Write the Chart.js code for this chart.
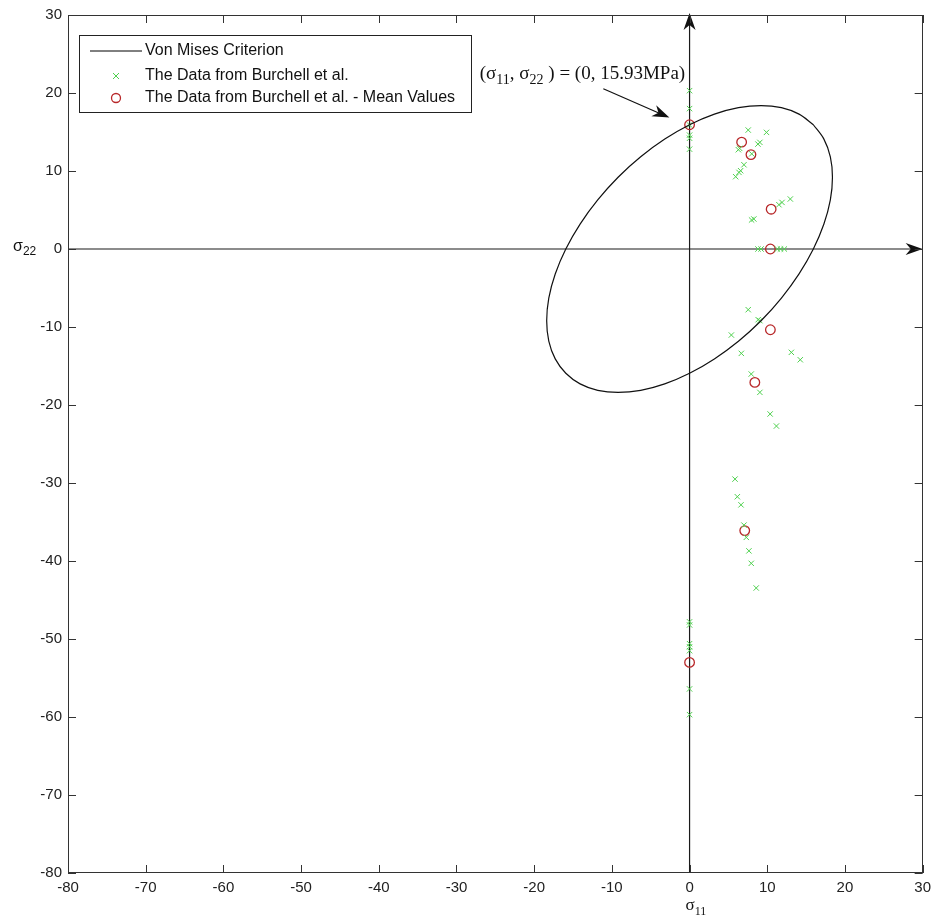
<!DOCTYPE html>
<html>
<head>
<meta charset="utf-8">
<title>Von Mises criterion vs Burchell data</title>
<script src="https://cdn.jsdelivr.net/npm/chart.js@4.4.1/dist/chart.umd.min.js"></script>
<style>
  html, body { margin: 0; padding: 0; background: #fff; }
</style>
</head>
<body>
<canvas id="yieldChart" width="937" height="922"></canvas>
<script>
// ---- data ----
const xTickValues = [-80, -70, -60, -50, -40, -30, -20, -10, 0, 10, 20, 30];
const yTickValues = [-80, -70, -60, -50, -40, -30, -20, -10, 0, 10, 20, 30];

// Von Mises ellipse (sigma_y = 15.93 MPa), points read around the curve
const vonMisesS11 = [15.93, 14.09, 11.82, 9.20, 6.29, 3.20, 0, -3.19, -6.29, -9.20, -11.82, -14.09,
  -15.93, -17.29, -18.12, -18.39, -18.12, -17.29, -15.93, -14.09, -11.82, -9.20, -6.29, -3.20,
  0, 3.19, 6.29, 9.20, 11.82, 14.09, 15.93, 17.29, 18.12, 18.39, 18.12, 17.29, 15.93];
const vonMisesS22 = [15.93, 17.29, 18.12, 18.39, 18.12, 17.29, 15.93, 14.09, 11.82, 9.20, 6.29, 3.19,
  0, -3.20, -6.29, -9.20, -11.82, -14.09, -15.93, -17.29, -18.12, -18.39, -18.12, -17.29,
  -15.93, -14.09, -11.82, -9.20, -6.29, -3.19, 0, 3.20, 6.29, 9.20, 11.82, 14.09, 15.93];

// The Data from Burchell et al.
const burchellS11 = [0, 0, 0, 0, 0, 0,
  7.55, 9.9, 9.05, 8.8, 6.28, 6.45, 7.0, 6.57, 6.36, 5.93, 8.0,
  12.97, 11.9, 11.5, 7.98, 8.27,
  8.8, 9.2, 11.3, 11.7, 12.2,
  7.55, 8.83, 9.05, 5.38, 6.66, 13.1, 14.25, 7.94, 9.05, 10.37, 11.18,
  5.85, 6.15, 6.62, 7.0, 7.3, 7.64, 7.94, 8.58,
  0, 0, 0, 0, 0, 0, 0];
const burchellS22 = [20.3, 18.0, 15.9, 14.6, 14.2, 12.8,
  15.25, 14.95, 13.67, 13.45, 12.73, 12.9, 10.8, 10.04, 9.82, 9.27, 12.2,
  6.41, 5.97, 5.68, 3.72, 3.85,
  0, 0, 0, 0, 0,
  -7.78, -9.06, -9.19, -11.03, -13.38, -13.25, -14.2, -16.03, -18.38, -21.15, -22.7,
  -29.5, -31.76, -32.8, -35.4, -36.97, -38.7, -40.3, -43.46,
  -47.8, -48.2, -50.6, -51.0, -51.5, -56.4, -59.7];

// Mean values
const meanS11 = [0, 6.7, 7.9, 10.5, 10.4, 10.4, 8.4, 7.1, 0];
const meanS22 = [15.93, 13.7, 12.1, 5.1, 0, -10.35, -17.1, -36.1, -53.0];

const legendLabels = [
  "Von Mises Criterion",
  "The Data from Burchell et al.",
  "The Data from Burchell et al. - Mean Values",
];

const toPoints = (xs, ys) => xs.map((v, i) => ({ x: v, y: ys[i] }));

// ---- styles ----
const sansFont = '"Liberation Sans", Arial, sans-serif';
const serifFont = '"Liberation Serif", "Times New Roman", serif';
const greenColor = "#4fd04f";
const redColor = "#b8282a";

// annotation anchor points (data coords)
const noteTextAt = { x: -27.0, y: 21.8 };
const noteArrowFrom = { x: -11.1, y: 20.55 };
const noteArrowTo = { x: -2.6, y: 16.85 };

function arrowHead(ctx, tx, ty, angle, len, half) {
  ctx.save();
  ctx.translate(tx, ty);
  ctx.rotate(angle);
  ctx.beginPath();
  ctx.moveTo(0, 0);
  ctx.lineTo(-len, -half);
  ctx.lineTo(-len * 0.7, 0);
  ctx.lineTo(-len, half);
  ctx.closePath();
  ctx.fill();
  ctx.restore();
}

// draws text pieces, some of them as subscripts
function drawRich(ctx, parts, x, y, size, family) {
  let cx = x;
  parts.forEach((p) => {
    const s = p.sub ? Math.round(size * 0.72) : size;
    ctx.font = s + "px " + family;
    ctx.fillText(p.t, cx, p.sub ? y + size * 0.28 : y);
    cx += ctx.measureText(p.t).width;
  });
}

const matlabLook = {
  id: "matlabLook",
  beforeDatasetsDraw(chart) {
    const { ctx, chartArea: a, scales } = chart;
    const x0 = scales.x.getPixelForValue(0);
    const y0 = scales.y.getPixelForValue(0);
    ctx.save();
    ctx.strokeStyle = "#1a1a1a";
    ctx.lineWidth = 1.2;
    ctx.beginPath();
    ctx.moveTo(x0, a.bottom);
    ctx.lineTo(x0, a.top + 6);
    ctx.moveTo(a.left, y0);
    ctx.lineTo(a.right - 6, y0);
    ctx.stroke();
    ctx.restore();
  },
  afterDatasetsDraw(chart) {
    const { ctx, chartArea: a, scales } = chart;
    const xs = scales.x, ys = scales.y;
    ctx.save();

    // arrow heads on the coordinate axes
    ctx.fillStyle = "#111";
    arrowHead(ctx, xs.getPixelForValue(0), a.top - 2, -Math.PI / 2, 17, 6);
    arrowHead(ctx, a.right, ys.getPixelForValue(0), 0, 17, 6);

    // frame
    ctx.strokeStyle = "#333";
    ctx.lineWidth = 1;
    ctx.strokeRect(Math.round(a.left) + 0.5, Math.round(a.top) + 0.5,
      Math.round(a.right - a.left) - 1, Math.round(a.bottom - a.top) - 1);

    // inward ticks on all four sides
    const tl = 8;
    ctx.beginPath();
    xTickValues.forEach((v) => {
      const px = Math.round(xs.getPixelForValue(v)) + 0.5;
      ctx.moveTo(px, a.bottom); ctx.lineTo(px, a.bottom - tl);
      ctx.moveTo(px, a.top); ctx.lineTo(px, a.top + tl);
    });
    yTickValues.forEach((v) => {
      const py = Math.round(ys.getPixelForValue(v)) + 0.5;
      ctx.moveTo(a.left, py); ctx.lineTo(a.left + tl, py);
      ctx.moveTo(a.right, py); ctx.lineTo(a.right - tl, py);
    });
    ctx.stroke();

    // legend box
    const lx = a.left + 11, ly = a.top + 20, lw = 392, lh = 77;
    ctx.fillStyle = "#fff";
    ctx.fillRect(lx, ly, lw, lh);
    ctx.strokeStyle = "#222";
    ctx.strokeRect(lx + 0.5, ly + 0.5, lw, lh);
    const rows = [ly + 16, ly + 41, ly + 63];
    const sampleX = lx + 37;
    ctx.strokeStyle = "#000";
    ctx.beginPath();
    ctx.moveTo(lx + 11, rows[0]); ctx.lineTo(lx + 63, rows[0]);
    ctx.stroke();
    ctx.strokeStyle = greenColor;
    ctx.beginPath();
    ctx.moveTo(sampleX - 3, rows[1] - 3); ctx.lineTo(sampleX + 3, rows[1] + 3);
    ctx.moveTo(sampleX + 3, rows[1] - 3); ctx.lineTo(sampleX - 3, rows[1] + 3);
    ctx.stroke();
    ctx.strokeStyle = redColor;
    ctx.lineWidth = 1.3;
    ctx.beginPath();
    ctx.arc(sampleX, rows[2], 4.5, 0, Math.PI * 2);
    ctx.stroke();
    ctx.fillStyle = "#111";
    ctx.font = "16px " + sansFont;
    ctx.textBaseline = "middle";
    legendLabels.forEach((t, i) => ctx.fillText(t, lx + 66, rows[i]));

    // annotation
    ctx.textBaseline = "alphabetic";
    drawRich(ctx, [
      { t: "(\u03c3" }, { t: "11", sub: true }, { t: ", \u03c3" }, { t: "22", sub: true },
      { t: " ) = (0, 15.93MPa)" },
    ], xs.getPixelForValue(noteTextAt.x), ys.getPixelForValue(noteTextAt.y), 19, serifFont);
    const fx = xs.getPixelForValue(noteArrowFrom.x), fy = ys.getPixelForValue(noteArrowFrom.y);
    const tx = xs.getPixelForValue(noteArrowTo.x), ty = ys.getPixelForValue(noteArrowTo.y);
    ctx.strokeStyle = "#111";
    ctx.lineWidth = 1.2;
    ctx.beginPath();
    ctx.moveTo(fx, fy); ctx.lineTo(tx - (tx - fx) * 0.1, ty - (ty - fy) * 0.1);
    ctx.stroke();
    arrowHead(ctx, tx, ty, Math.atan2(ty - fy, tx - fx), 17, 6);

    // axis titles
    ctx.fillStyle = "#111";
    drawRich(ctx, [{ t: "\u03c3" }, { t: "11", sub: true }],
      xs.getPixelForValue(0) - 4, a.bottom + 37, 17, serifFont);
    drawRich(ctx, [{ t: "\u03c3" }, { t: "22", sub: true }],
      13, ys.getPixelForValue(0) + 2, 16, sansFont);

    ctx.restore();
  },
};

const tickFont = { family: sansFont, size: 15 };

new Chart(document.getElementById("yieldChart"), {
  type: "scatter",
  data: {
    datasets: [
      {
        label: legendLabels[0],
        type: "line",
        data: toPoints(vonMisesS11, vonMisesS22),
        borderColor: "#111",
        borderWidth: 1.2,
        pointRadius: 0,
        tension: 0.34,
        fill: false,
      },
      {
        label: legendLabels[1],
        data: toPoints(burchellS11, burchellS22),
        pointStyle: "crossRot",
        pointRadius: 3.8,
        borderColor: greenColor,
        borderWidth: 1,
      },
      {
        label: legendLabels[2],
        data: toPoints(meanS11, meanS22),
        pointStyle: "circle",
        pointRadius: 4.8,
        borderColor: redColor,
        backgroundColor: "rgba(0,0,0,0)",
        borderWidth: 1.3,
      },
    ],
  },
  options: {
    responsive: false,
    animation: false,
    events: [],
    layout: { padding: { top: 14, right: 9, left: 0, bottom: 0 } },
    plugins: {
      legend: { display: false },
      tooltip: { enabled: false },
    },
    scales: {
      x: {
        type: "linear",
        min: -80,
        max: 30,
        afterBuildTicks: (s) => { s.ticks = xTickValues.map((v) => ({ value: v })); },
        afterFit: (s) => { s.height = 49; },
        grid: { display: false, drawTicks: false },
        border: { display: false },
        ticks: { padding: 6, color: "#222", font: tickFont, maxRotation: 0, autoSkip: false },
      },
      y: {
        type: "linear",
        min: -80,
        max: 30,
        afterBuildTicks: (s) => { s.ticks = yTickValues.map((v) => ({ value: v })); },
        afterFit: (s) => { s.width = 68; },
        grid: { display: false, drawTicks: false },
        border: { display: false },
        ticks: { padding: 6, color: "#222", font: tickFont, autoSkip: false },
      },
    },
  },
  plugins: [matlabLook],
});
</script>
</body>
</html>
